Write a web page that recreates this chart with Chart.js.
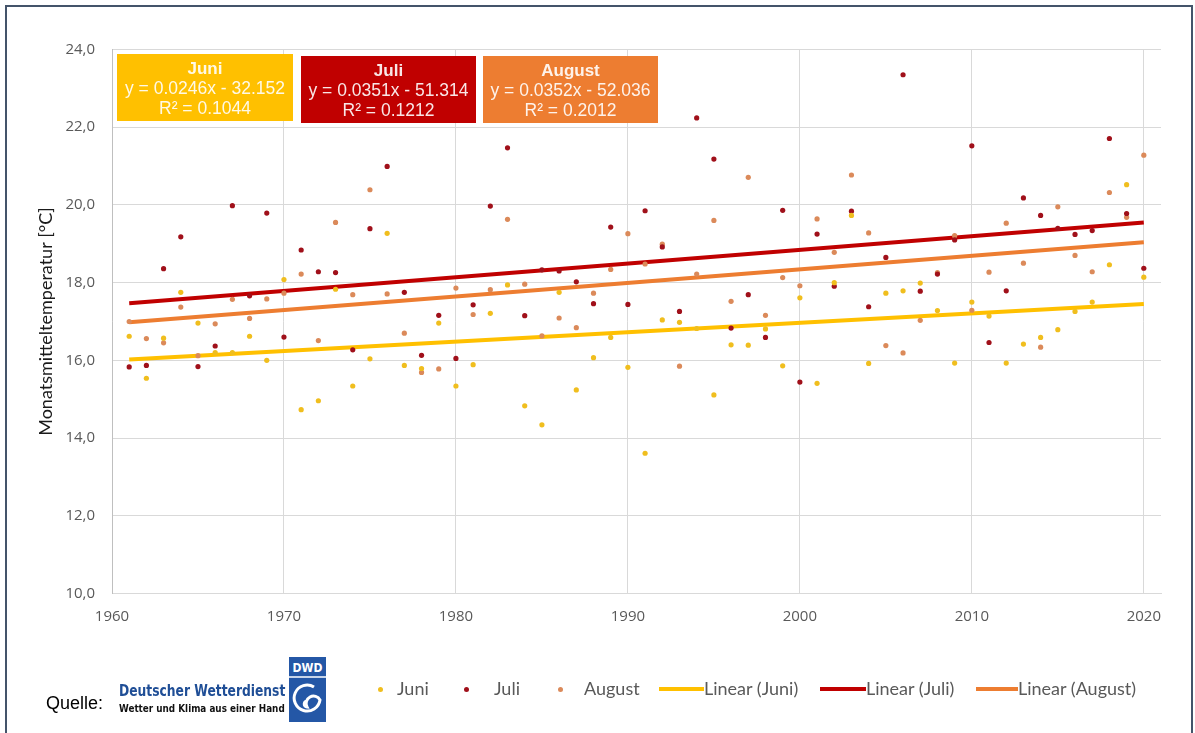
<!DOCTYPE html>
<html>
<head>
<meta charset="utf-8">
<script src="https://cdn.jsdelivr.net/npm/chart.js@4"></script>
<style>
  body { margin: 0; background: #fff; }
  #frame { position: absolute; left: 5px; top: 5px; width: 1184px; height: 760px; border: 2px solid #44546A; }
  #wrap { position: absolute; left: 0; top: 0; width: 1195px; height: 733px; }
  .leg { position: absolute; top: 677px; font-family: Lato, "Open Sans", sans-serif; font-size: 18px; color: #595959; white-space: nowrap; }
  .dot { position: absolute; top: 687px; width: 5px; height: 5px; border-radius: 50%; }
  .sw { position: absolute; top: 687px; height: 4px; }
  #quelle { position: absolute; left: 46px; top: 693px; font-family: "Liberation Sans", Arial, sans-serif; font-size: 18px; color: #000; }
  #dwd1 { position: absolute; left: 119px; top: 682px; font-family: "DejaVu Sans Condensed", "DejaVu Sans", sans-serif; font-weight: bold; font-size: 15px; color: #1F4E96; transform-origin: 0 0; white-space: nowrap; }
  #dwd2 { position: absolute; left: 119px; top: 703px; font-family: "DejaVu Sans Condensed", "DejaVu Sans", sans-serif; font-weight: bold; font-size: 10px; color: #111; transform-origin: 0 0; white-space: nowrap; }
  #logo { position: absolute; left: 289px; top: 657px; }
</style>
</head>
<body>
<div id="frame"></div>
<div id="wrap"><canvas id="chart"></canvas></div>

<span id="quelle">Quelle:</span>
<span id="dwd1">Deutscher Wetterdienst</span>
<span id="dwd2">Wetter und Klima aus einer Hand</span>
<svg id="logo" width="37" height="65" viewBox="0 0 37 65">
  <rect x="0" y="0" width="37" height="65" fill="#2457A6"/>
  <text x="18.5" y="15" text-anchor="middle" font-family="DejaVu Sans Condensed, DejaVu Sans, sans-serif" font-weight="bold" font-size="12" fill="#fff">DWD</text>
  <line x1="0" y1="20" x2="37" y2="20" stroke="#fff" stroke-width="1.5"/>
  <path d="M25,30 A13,13 0 1,0 31,43 A7,7 0 1,0 18,50 A3,3 0 1,1 18.5,44" fill="none" stroke="#fff" stroke-width="3"/>
</svg>

<span class="dot" style="left:378px;background:#F0BE1E"></span>
<span class="leg" style="left:397px">Juni</span>
<span class="dot" style="left:464px;background:#A0101A"></span>
<span class="leg" style="left:494px">Juli</span>
<span class="dot" style="left:558px;background:#DB8A5A"></span>
<span class="leg" style="left:584px">August</span>
<span class="sw" style="left:659px;width:45px;background:#FFC000"></span>
<span class="leg" style="left:704px">Linear (Juni)</span>
<span class="sw" style="left:820px;width:46px;background:#C00000"></span>
<span class="leg" style="left:866px">Linear (Juli)</span>
<span class="sw" style="left:976px;width:42px;background:#ED7D31"></span>
<span class="leg" style="left:1018px">Linear (August)</span>

<script>
// years on the x axis
const years = [1961, 1962, 1963, 1964, 1965, 1966, 1967, 1968, 1969, 1970,
  1971, 1972, 1973, 1974, 1975, 1976, 1977, 1978, 1979, 1980,
  1981, 1982, 1983, 1984, 1985, 1986, 1987, 1988, 1989, 1990,
  1991, 1992, 1993, 1994, 1995, 1996, 1997, 1998, 1999, 2000,
  2001, 2002, 2003, 2004, 2005, 2006, 2007, 2008, 2009, 2010,
  2011, 2012, 2013, 2014, 2015, 2016, 2017, 2018, 2019, 2020];

// monthly mean temperatures
const juni = [16.62, 15.54, 16.57, 17.75, 16.96, 16.2, 16.2, 16.62, 16.0, 18.08,
  14.73, 14.96, 17.83, 15.34, 16.04, 19.27, 15.87, 15.79, 16.96, 15.34,
  15.89, 17.21, 17.94, 14.83, 14.34, 17.75, 15.24, 16.07, 16.59, 15.82,
  13.61, 17.04, 16.98, 16.82, 15.11, 16.40, 16.39, 16.81, 15.86, 17.61,
  15.41, 18.0, 19.73, 15.92, 17.73, 17.79, 17.99, 17.28, 15.93, 17.50,
  17.14, 15.93, 16.42, 16.59, 16.79, 17.26, 17.5, 18.46, 20.52, 18.14];
const juli = [15.83, 15.87, 18.36, 19.18, 15.84, 16.37, 19.98, 17.66, 19.79, 16.60,
  18.84, 18.28, 18.26, 16.27, 19.39, 20.99, 17.75, 16.13, 17.16, 16.05,
  17.43, 19.97, 21.47, 17.15, 18.33, 18.30, 18.02, 17.46, 19.43, 17.44,
  19.85, 18.92, 17.26, 22.24, 21.18, 16.83, 17.69, 16.59, 19.86, 15.44,
  19.25, 17.91, 19.84, 17.38, 18.65, 23.35, 17.78, 18.22, 19.10, 21.52,
  16.46, 17.79, 20.18, 19.73, 19.4, 19.24, 19.34, 21.71, 19.78, 18.37];
const august = [17.0, 16.56, 16.45, 17.37, 16.12, 16.94, 17.57, 17.08, 17.58, 17.73,
  18.22, 16.51, 19.55, 17.69, 20.39, 17.71, 16.70, 15.69, 15.78, 17.86,
  17.18, 17.82, 19.63, 17.96, 16.63, 17.09, 16.84, 17.73, 18.34, 19.26,
  18.48, 18.99, 15.85, 18.22, 19.60, 17.52, 20.71, 17.16, 18.13, 17.92,
  19.64, 18.78, 20.77, 19.28, 16.38, 16.19, 17.03, 18.26, 19.21, 17.29,
  18.27, 19.53, 18.50, 16.34, 19.95, 18.70, 18.28, 20.32, 19.68, 21.28];

// linear trend lines: start (1961) and end (2020) values
const trendYears = [1961, 2020];
const trendJuni = [16.02, 17.45];
const trendJuli = [17.47, 19.55];
const trendAugust = [16.98, 19.04];

// regression labels
const boxLabels = ["Juni", "Juli", "August"];
const boxEquations = ["y = 0.0246x - 32.152", "y = 0.0351x - 51.314", "y = 0.0352x - 52.036"];
const boxR2 = ["R² = 0.1044", "R² = 0.1212", "R² = 0.2012"];

const boxColors = ["#FFC000", "#C00000", "#ED7D31"];
const boxPos = [
  { x: 117, y: 54, w: 176 },
  { x: 301, y: 56, w: 175 },
  { x: 483, y: 56, w: 175 },
];

function toPoints(xs, ys) {
  return xs.map((x, i) => ({ x: x, y: ys[i] }));
}

const equationBoxes = {
  id: "equationBoxes",
  afterDraw(chart) {
    const ctx = chart.ctx;
    ctx.save();
    boxLabels.forEach((label, i) => {
      const b = boxPos[i];
      ctx.fillStyle = boxColors[i];
      ctx.fillRect(b.x, b.y, b.w, 67);
      ctx.fillStyle = "rgba(255,255,255,0.9)";
      ctx.textAlign = "center";
      ctx.textBaseline = "middle";
      const cx = b.x + b.w / 2;
      ctx.font = "bold 17px 'Liberation Sans', Arial, sans-serif";
      ctx.fillText(label, cx, b.y + 15);
      ctx.font = "17.5px 'Liberation Sans', Arial, sans-serif";
      ctx.fillText(boxEquations[i], cx, b.y + 35);
      ctx.fillText(boxR2[i], cx, b.y + 55);
    });
    ctx.restore();
  },
};

const tickFont = { family: "'Open Sans', sans-serif", size: 15 };

new Chart(document.getElementById("chart"), {
  type: "scatter",
  data: {
    datasets: [
      { label: "Juni", data: toPoints(years, juni), backgroundColor: "#F0BE1E", pointRadius: 2.6, pointBorderWidth: 0, order: 1 },
      { label: "Juli", data: toPoints(years, juli), backgroundColor: "#A0101A", pointRadius: 2.6, pointBorderWidth: 0, order: 1 },
      { label: "August", data: toPoints(years, august), backgroundColor: "#DB8A5A", pointRadius: 2.6, pointBorderWidth: 0, order: 1 },
      { label: "Linear (Juni)", type: "line", data: toPoints(trendYears, trendJuni), borderColor: "#FFC000", borderWidth: 4, pointRadius: 0, order: 2 },
      { label: "Linear (Juli)", type: "line", data: toPoints(trendYears, trendJuli), borderColor: "#C00000", borderWidth: 4, pointRadius: 0, order: 2 },
      { label: "Linear (August)", type: "line", data: toPoints(trendYears, trendAugust), borderColor: "#ED7D31", borderWidth: 4, pointRadius: 0, order: 2 },
    ],
  },
  options: {
    responsive: true,
    maintainAspectRatio: false,
    animation: false,
    layout: { padding: { left: 0, top: 49.5, right: 34, bottom: 99.5 } },
    plugins: {
      legend: { display: false },
      tooltip: { enabled: false },
    },
    scales: {
      x: {
        type: "linear",
        min: 1960,
        max: 2021,
        afterFit: (s) => { s.height = 40; },
        ticks: {
          stepSize: 10,
          includeBounds: false,
          padding: 14,
          color: "#595959",
          font: tickFont,
          callback: (v) => String(v),
        },
        grid: { color: "#D9D9D9", drawTicks: false },
        border: { color: "#D9D9D9" },
      },
      y: {
        min: 10,
        max: 24,
        afterFit: (s) => { s.width = 112; },
        ticks: {
          stepSize: 2,
          padding: 17,
          color: "#595959",
          font: tickFont,
          callback: (v) => v.toFixed(1).replace(".", ","),
        },
        grid: { color: "#D9D9D9", drawTicks: false },
        border: { color: "#BFBFBF" },
        title: {
          display: true,
          text: "Monatsmitteltemperatur [°C]",
          color: "#1a1a1a",
          font: { family: "Lato, 'Open Sans', sans-serif", size: 18 },
          padding: { top: 35, bottom: 0 },
        },
      },
    },
  },
  plugins: [equationBoxes],
});

// squeeze the DWD wordmark lines to the logo width
["dwd1", "dwd2"].forEach((id) => {
  const el = document.getElementById(id);
  el.style.display = "inline-block";
  el.style.transform = "scaleX(" + (166 / el.offsetWidth) + ")";
});
</script>
</body>
</html>
